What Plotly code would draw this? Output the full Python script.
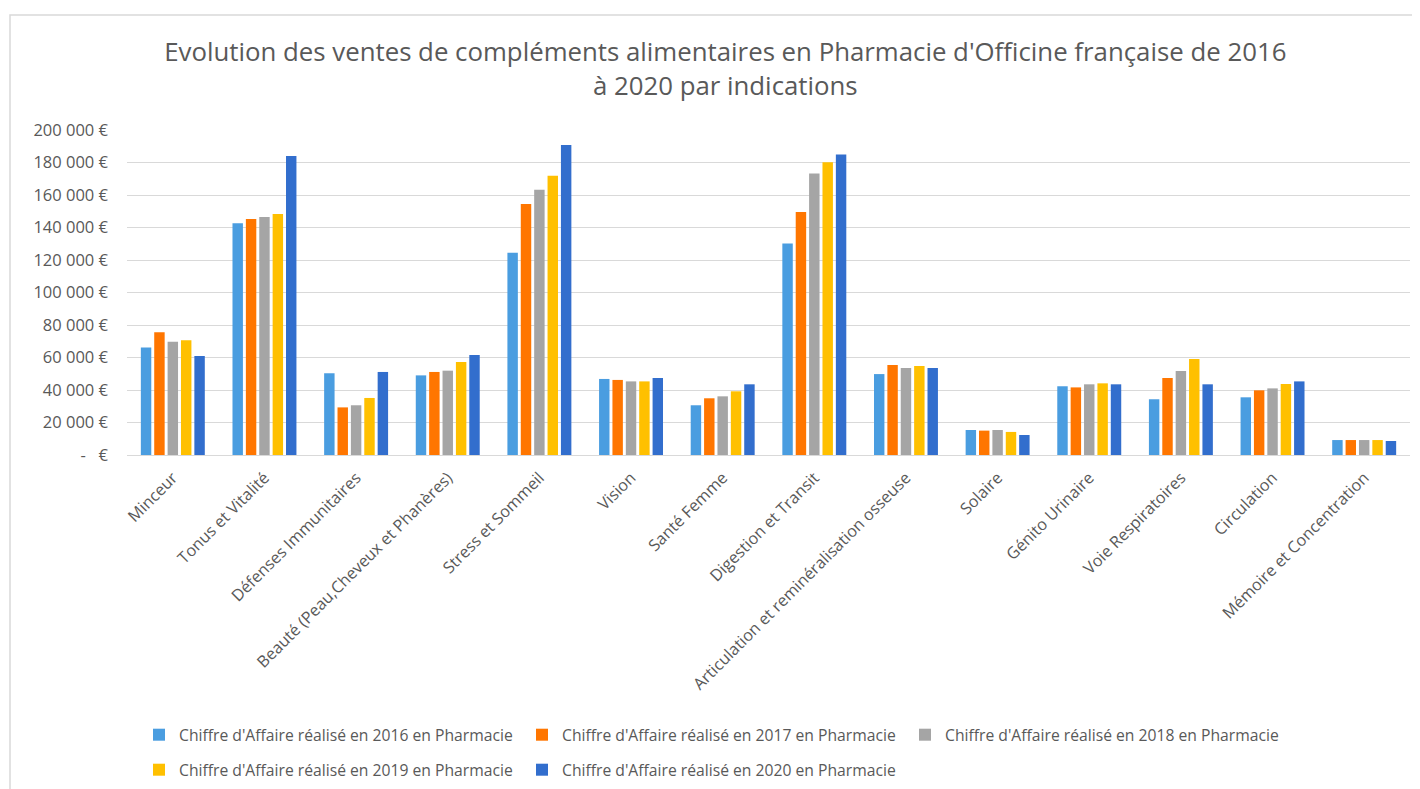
import plotly.graph_objects as go

categories = ["Minceur", "Tonus et Vitalité", "Défenses Immunitaires",
              "Beauté (Peau,Cheveux et Phanères)", "Stress et Sommeil", "Vision",
              "Santé Femme", "Digestion et Transit",
              "Articulation et reminéralisation osseuse", "Solaire", "Génito Urinaire",
              "Voie Respiratoires", "Circulation", "Mémoire et Concentration"]

v2016 = [66100, 142600, 50300, 49000, 124500, 46800, 30600, 130100, 49800, 15400, 42300, 34300, 35500, 9200]
v2017 = [75500, 145200, 29300, 51100, 154500, 46200, 34900, 149500, 55400, 15000, 41600, 47400, 39800, 9200]
v2018 = [69700, 146500, 30600, 51900, 163300, 45300, 36100, 173300, 53500, 15400, 43500, 51700, 41000, 9200]
v2019 = [70600, 148300, 35100, 57200, 171900, 45300, 39200, 180100, 54800, 14200, 44100, 59100, 43700, 9200]
v2020 = [60900, 184000, 51100, 61500, 190800, 47400, 43500, 185000, 53500, 12300, 43500, 43500, 45300, 8600]

series_names = ["Chiffre d'Affaire réalisé en 2016 en Pharmacie",
                "Chiffre d'Affaire réalisé en 2017 en Pharmacie",
                "Chiffre d'Affaire réalisé en 2018 en Pharmacie",
                "Chiffre d'Affaire réalisé en 2019 en Pharmacie",
                "Chiffre d'Affaire réalisé en 2020 en Pharmacie"]
colors = ["#4a9de0", "#ff7600", "#a5a5a5", "#ffc000", "#326ecd"]

tick_vals = [0, 20000, 40000, 60000, 80000, 100000, 120000, 140000, 160000, 180000, 200000]
tick_text = ["-   €", "20 000 €", "40 000 €", "60 000 €", "80 000 €", "100 000 €",
             "120 000 €", "140 000 €", "160 000 €", "180 000 €", "200 000 €"]

title_text = ("Evolution des ventes de compléments alimentaires en Pharmacie d'Officine française de 2016"
              "<br>à 2020 par indications")

FONT = "Open Sans"
GREY = "#595959"
W, H = 1412, 781  # page body has an 8px margin

fig = go.Figure()
for i, (name, vals, col) in enumerate(zip(series_names, [v2016, v2017, v2018, v2019, v2020], colors)):
    fig.add_trace(go.Bar(x=categories, y=vals, name=name, marker_color=col, marker_line_width=0,
                         legend="legend" if i < 3 else "legend2"))

leg_common = dict(orientation="h", xref="container", yref="container", xanchor="left",
                  yanchor="middle", entrywidth=338, font=dict(family=FONT, size=15.7, color=GREY),
                  traceorder="normal", itemclick=False, bgcolor="rgba(0,0,0,0)")

fig.update_layout(
    width=W, height=H,
    paper_bgcolor="white", plot_bgcolor="white",
    font=dict(family=FONT, color=GREY, size=15),
    title=dict(text=title_text, x=0.508, xanchor="center", xref="container",
               yref="container", y=0.932, yanchor="top",
               font=dict(family=FONT, size=25.8, color=GREY)),
    margin=dict(l=119, r=10, t=122, b=334, autoexpand=False),
    barmode="group", bargap=0.27, bargroupgap=0.22,
    xaxis=dict(tickangle=-45, showline=True, linecolor="#d9d9d9", linewidth=1,
               ticks="", automargin=False, ticklabelstandoff=6,
               tickfont=dict(size=16.2, color=GREY)),
    yaxis=dict(range=[0, 200000], tickvals=tick_vals, ticktext=tick_text,
               showgrid=True, gridcolor="#d9d9d9", gridwidth=1, zeroline=False,
               ticks="", automargin=False, ticklabelstandoff=18,
               tickfont=dict(size=16.5, color=GREY)),
    legend=dict(x=131 / W, y=1 - 727 / H, **leg_common),
    legend2=dict(x=131 / W, y=1 - 762 / H, **leg_common),
    showlegend=True,
    shapes=[dict(type="rect", xref="paper", yref="paper",
                 x0=(2 - 119) / 1283, x1=1.05, y0=-1.2, y1=(447 - 7) / 325,
                 line=dict(color="#d9d9d9", width=1.5), layer="below")],
)

fig.write_html("out.html")
